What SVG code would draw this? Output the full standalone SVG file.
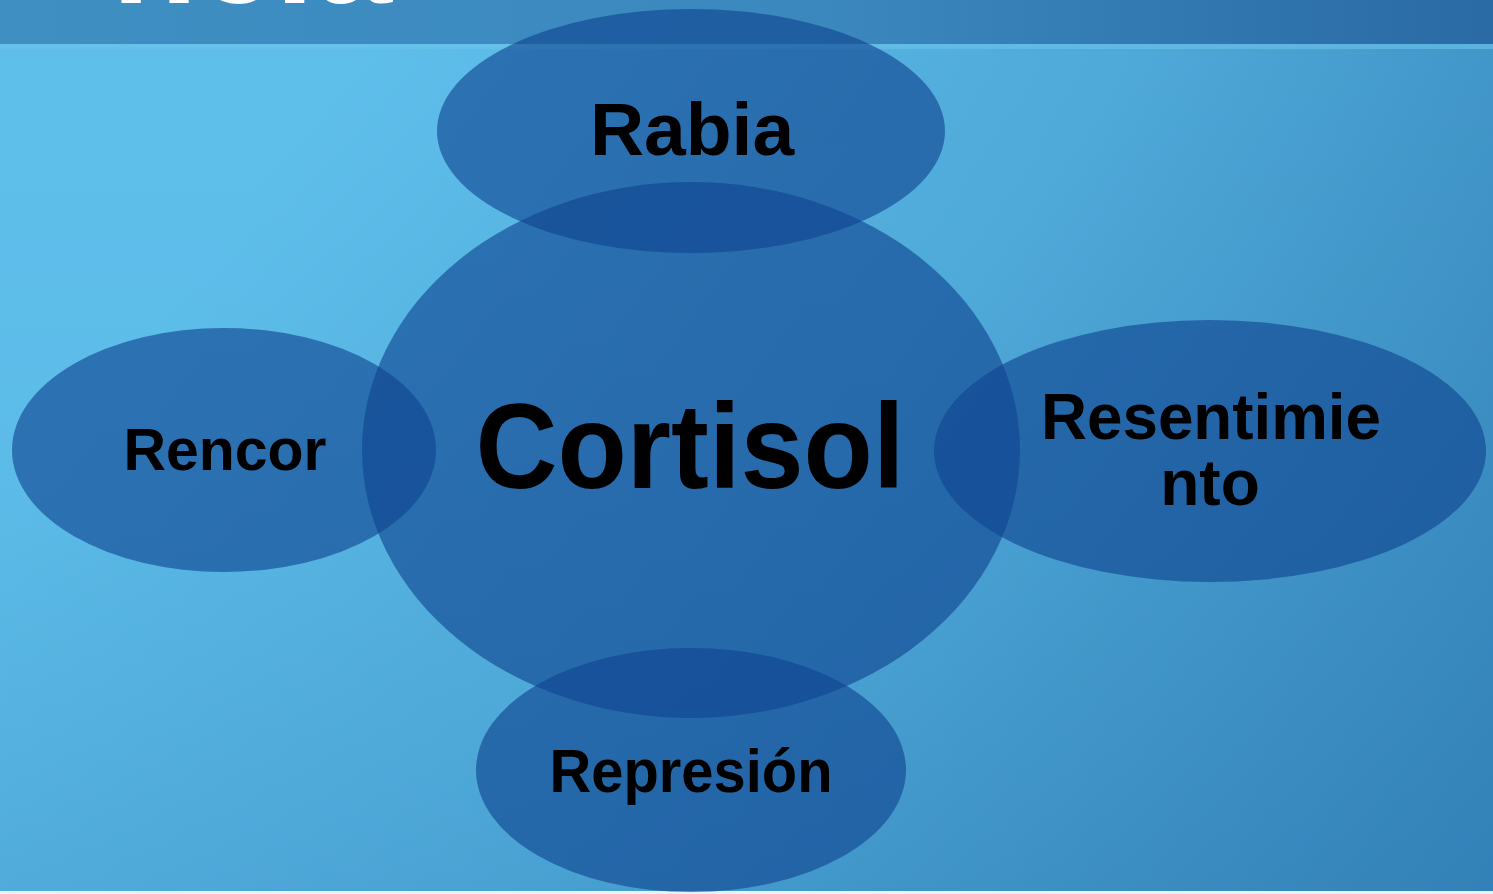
<svg xmlns="http://www.w3.org/2000/svg" width="1493" height="894" viewBox="0 0 1493 894">
<style>
.lbl{font-family:"Liberation Sans",Arial,sans-serif;font-weight:bold;fill:#000;text-anchor:middle}
.bub{fill:#0e4390;fill-opacity:0.62}
</style>
<defs>
<linearGradient id="bg" x1="350" y1="60" x2="1493" y2="894" gradientUnits="userSpaceOnUse">
<stop offset="0" stop-color="#5fbfeb"/>
<stop offset="0.45" stop-color="#4ea8d8"/>
<stop offset="1" stop-color="#2b76ae"/>
</linearGradient>
<linearGradient id="bgl" x1="0" y1="0" x2="0" y2="894" gradientUnits="userSpaceOnUse">
<stop offset="0" stop-color="#5fbfeb" stop-opacity="0"/>
<stop offset="1" stop-color="#3f94c8" stop-opacity="0.35"/>
</linearGradient>
<linearGradient id="top" x1="0" y1="0" x2="1" y2="0">
<stop offset="0" stop-color="#3f8fc3"/>
<stop offset="0.55" stop-color="#3b88be"/>
<stop offset="1" stop-color="#2a6aa5"/>
</linearGradient>
<clipPath id="tc"><rect x="0" y="0" width="1493" height="7"/></clipPath>
</defs>
<g id="background">
<rect x="0" y="0" width="1493" height="894" fill="url(#bg)"/>
<rect x="0" y="0" width="1493" height="894" fill="url(#bgl)"/>
<rect x="0" y="0" width="1493" height="44" fill="url(#top)"/>
<rect x="0" y="44" width="1493" height="5" fill="#6cc3ea" opacity="0.6"/>
<rect x="0" y="891" width="1493" height="3" fill="#e8f2f8"/>
</g>
<g id="title" clip-path="url(#tc)">
<text x="392" y="3" font-family="'Liberation Sans',Arial,sans-serif" font-weight="bold" font-size="140" fill="#fff" text-anchor="end">ncia</text>
</g>
<g id="connectors"></g>
<g id="node-cortisol">
<ellipse class="bub" cx="691" cy="450" rx="329" ry="268"/>
</g>
<g id="node-rabia">
<ellipse class="bub" cx="691" cy="131" rx="254" ry="122"/>
<text class="lbl" x="692" y="155" font-size="75">Rabia</text>
</g>
<g id="node-rencor">
<ellipse class="bub" cx="224" cy="450" rx="212" ry="122"/>
<text class="lbl" x="225" y="470" font-size="60" textLength="203" lengthAdjust="spacingAndGlyphs">Rencor</text>
</g>
<g id="node-resentimiento">
<ellipse class="bub" cx="1210" cy="451" rx="276" ry="131"/>
<text class="lbl" x="1211" y="439" font-size="64" textLength="340" lengthAdjust="spacingAndGlyphs">Resentimie</text>
<text class="lbl" x="1210" y="505" font-size="64">nto</text>
</g>
<g id="node-represion">
<ellipse class="bub" cx="691" cy="770" rx="215" ry="122"/>
<text class="lbl" x="691" y="792" font-size="61" textLength="283" lengthAdjust="spacingAndGlyphs">Represión</text>
</g>
<g id="label-cortisol">
<text class="lbl" x="690" y="488" font-size="120" textLength="429" lengthAdjust="spacingAndGlyphs">Cortisol</text>
</g>
</svg>
